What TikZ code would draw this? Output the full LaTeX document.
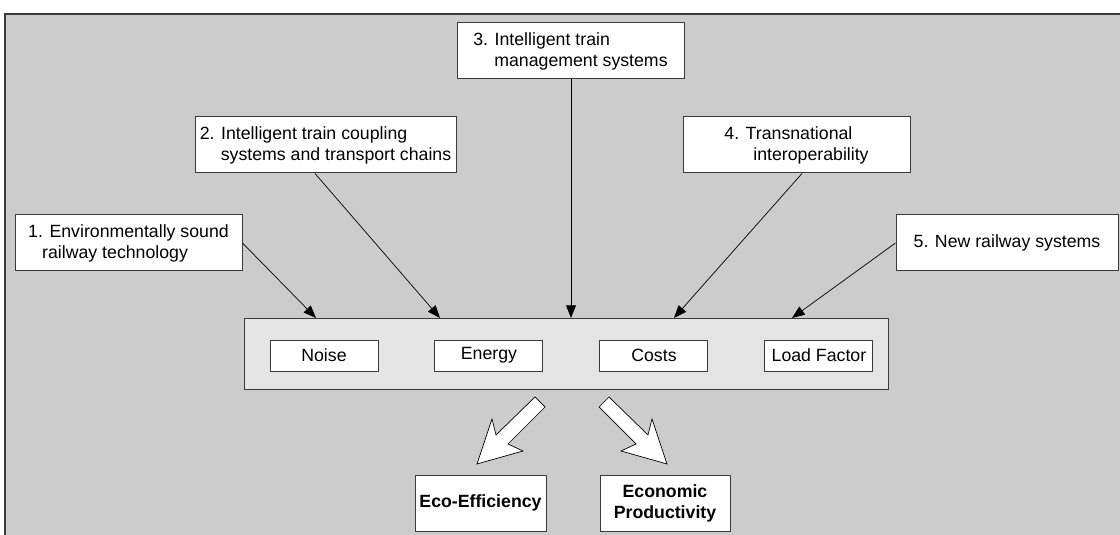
\documentclass[tikz,border=0pt]{standalone}
\usepackage{fontspec}
\setmainfont{Liberation Sans}
\usepackage{tikz}
\usetikzlibrary{positioning,arrows.meta}
\definecolor{panelgray}{HTML}{CCCCCC}
\definecolor{bandgray}{HTML}{E4E4E4}
\definecolor{edgegray}{HTML}{3A3A3A}

\begin{document}
\begin{tikzpicture}[
  font=\fontsize{12.6}{15}\selectfont,
  fieldbox/.style={
    draw=edgegray, line width=0.7pt, fill=white,
    minimum width=5.675cm, minimum height=1.4cm,
    align=left, inner sep=2pt,
  },
  factorbox/.style={
    draw=edgegray, line width=0.7pt, fill=white,
    minimum width=2.7cm, minimum height=0.775cm,
    inner sep=1pt,
  },
  goalbox/.style={
    draw=edgegray, line width=0.7pt, fill=white,
    minimum width=3.25cm, minimum height=1.4cm,
    align=center, inner sep=1pt,
    font=\fontsize{12.6}{15}\selectfont\bfseries,
  },
  band/.style={
    draw=edgegray, line width=0.7pt, fill=bandgray,
    minimum width=16.1cm, minimum height=1.775cm,
  },
  feed/.style={draw=black, line width=0.5pt, -{Triangle[length=9pt,width=7pt]}},
  bigarrow/.style={draw=black, line width=0.5pt, fill=white, line join=miter},
]

\useasboundingbox (0,0) rectangle (28,13.375);

% === GREY PANEL ===
\fill[panelgray] (0.125,0) rectangle (28,13.025);
\draw[edgegray, line width=1pt] (0.125,0) -- (0.125,13.025) -- (28,13.025);

% === FIVE RESEARCH FIELDS ===
\node[fieldbox] (fld1) at (3.2125, 7.3) {1. Environmentally sound\\\hspace{0.35cm}railway technology};
\node[fieldbox, minimum width=6.525cm] (fld2) at (8.1375, 9.75) {2. Intelligent train coupling\\\hspace{0.525cm}systems and transport chains};
\node[fieldbox] (fld3) at (14.2625, 12.1) {3. Intelligent train\\\hspace{0.525cm}management systems};
\node[fieldbox] (fld4) at (19.9125, 9.75) {4. Transnational\\\hspace{0.725cm}interoperability};
\node[fieldbox, minimum width=5.55cm] (fld5) at (25.175, 7.3) {5. New railway systems};

% === TARGET FACTORS ===
\node[band] (band) at (14.15, 4.5375) {};
\node[factorbox] (noise) at (8.1, 4.4875) {Noise};
\node[factorbox, right=1.4cm of noise] (energy) {Energy};
\node[factorbox, right=1.4cm of energy] (costs) {Costs};
\node[factorbox, right=1.4cm of costs] (load) {Load Factor};

\coordinate (in1) at (7.9, 5.425);
\coordinate (in2) at (11.0, 5.425);
\coordinate (in3) at (14.275, 5.425);
\coordinate (in4) at (16.85, 5.425);
\coordinate (in5) at (19.8, 5.425);

% === FEED ARROWS ===
\draw[feed] (fld1.east) -- (in1);
\draw[feed] ([xshift=-0.2625cm]fld2.south) -- (in2);
\draw[feed] (fld3.south -| in3) -- (in3);
\draw[feed] ([xshift=0.1375cm]fld4.south) -- (in4);
\draw[feed] (fld5.west) -- (in5);

% === OUTCOMES ===
\node[goalbox, minimum width=3.275cm] (eco) at (12.0125, 0.8) {Eco-Efficiency};
\node[goalbox] (prod) at (16.625, 0.8) {Economic\\Productivity};

\draw[bigarrow] (13.375,3.45) -- (13.625,3.2) -- (12.7,2.275) -- (13.075,2.1)
  -- (11.925,1.775) -- (12.3,2.9) -- (12.4,2.5) -- cycle;
\draw[bigarrow] (15.225,3.45) -- (14.975,3.2) -- (15.9,2.275) -- (15.525,2.1)
  -- (16.675,1.775) -- (16.3,2.9) -- (16.2,2.5) -- cycle;

\end{tikzpicture}
\end{document}
